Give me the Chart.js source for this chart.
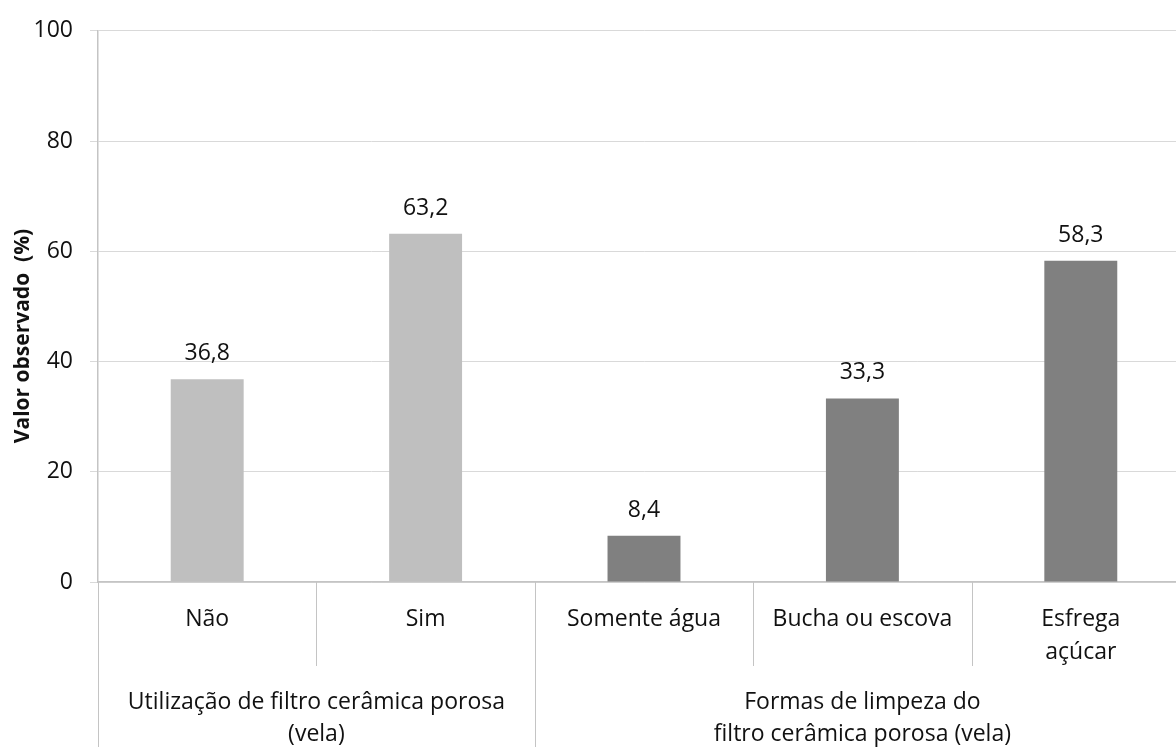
<!DOCTYPE html>
<html>
<head>
<meta charset="utf-8">
<script src="https://cdn.jsdelivr.net/npm/chart.js@4"></script>
<style>
  html, body { margin: 0; padding: 0; background: #fff; overflow: hidden; }
  #wrap { width: 1176px; height: 747px; overflow: hidden; position: relative; }
  canvas { display: block; }
</style>
</head>
<body>
<div id="wrap"><canvas id="c" width="1200" height="747"></canvas></div>
<script>
// ---- data ----
const categories = ['Não', 'Sim', 'Somente água', 'Bucha ou escova', ['Esfrega', 'açúcar']];
const values = [36.8, 63.2, 8.4, 33.3, 58.3];
const groupLabels = [
  ['Utilização de filtro cerâmica porosa', '(vela)'],
  ['Formas de limpeza do', 'filtro cerâmica porosa (vela)']
];
const groupSizes = [2, 3];
const yTicks = [0, 20, 40, 60, 80, 100];
const yTitle = 'Valor observado  (%)';

// ---- styles ----
const barColors = ['#BFBFBF', '#BFBFBF', '#808080', '#808080', '#808080'];
const FONT = '"Open Sans", sans-serif';
const FSIZE = 23;
const gridColor = '#D9D9D9';
const axisColor = '#C4C4C4';
const textColor = '#111111';

const fmt = v => v.toFixed(1).replace('.', ',');

const extras = {
  id: 'extras',
  afterDraw(chart) {
    const ctx = chart.ctx;
    const xs = chart.scales.x;
    const area = chart.chartArea;
    const n = categories.length;
    const step = (xs.right - xs.left) / n;
    const bounds = [];
    for (let i = 0; i <= n; i++) bounds.push(xs.getPixelForValue(i) - step / 2);
    const groupStarts = [0];
    groupSizes.forEach(s => groupStarts.push(groupStarts[groupStarts.length - 1] + s));

    ctx.save();
    ctx.strokeStyle = axisColor;
    ctx.lineWidth = 1;
    bounds.forEach((b, i) => {
      const long = groupStarts.includes(i);
      const x = Math.round(b) + 0.5;
      ctx.beginPath();
      ctx.moveTo(x, area.bottom);
      ctx.lineTo(x, long ? chart.height : area.bottom + 84);
      ctx.stroke();
    });

    // group labels
    ctx.fillStyle = textColor;
    ctx.font = FSIZE + 'px ' + FONT;
    ctx.textAlign = 'center';
    ctx.textBaseline = 'alphabetic';
    groupLabels.forEach((lines, g) => {
      const cx = (bounds[groupStarts[g]] + bounds[groupStarts[g + 1]]) / 2;
      lines.forEach((t, j) => {
        ctx.fillText(t, cx, area.bottom + 127 + j * 32);
      });
    });

    // data labels
    const meta = chart.getDatasetMeta(0);
    meta.data.forEach((bar, i) => {
      ctx.fillText(fmt(values[i]), bar.x, bar.y - 19);
    });

    // y title
    ctx.save();
    ctx.translate(23, 336);
    ctx.rotate(-Math.PI / 2);
    ctx.font = 'bold 21px ' + FONT;
    ctx.textBaseline = 'middle';
    ctx.fillText(yTitle, 0, 0);
    ctx.restore();
    ctx.restore();
  }
};

new Chart(document.getElementById('c'), {
  type: 'bar',
  data: {
    labels: categories,
    datasets: [{
      data: values,
      backgroundColor: barColors,
      borderWidth: 0,
      categoryPercentage: 1,
      barPercentage: 0.334
    }]
  },
  options: {
    responsive: false,
    animation: false,
    devicePixelRatio: 1,
    layout: { padding: { top: 25, right: 10, left: 0, bottom: 0 } },
    plugins: { legend: { display: false }, tooltip: { enabled: false } },
    scales: {
      x: {
        grid: { display: false, drawTicks: false },
        border: { display: true, color: axisColor, width: 1.5 },
        ticks: {
          color: textColor,
          font: { family: FONT, size: FSIZE, lineHeight: 1.42 },
          padding: 21,
          maxRotation: 0,
          autoSkip: false
        },
        afterFit: s => { s.height = 165; }
      },
      y: {
        min: 0,
        max: 100,
        afterBuildTicks: s => { s.ticks = yTicks.map(v => ({ value: v })); },
        grid: { color: gridColor, tickColor: gridColor, tickLength: 8, lineWidth: 1 },
        border: { display: true, color: axisColor, width: 1.5 },
        ticks: {
          color: textColor,
          font: { family: FONT, size: FSIZE },
          padding: 17
        },
        afterFit: s => { s.width = 98; }
      }
    }
  },
  plugins: [extras]
});
</script>
</body>
</html>
